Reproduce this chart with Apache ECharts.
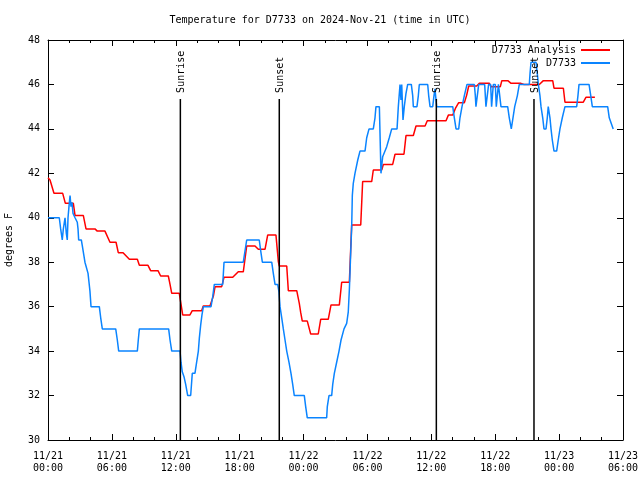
<!DOCTYPE html>
<html>
<head>
<meta charset="utf-8">
<script src="https://cdn.jsdelivr.net/npm/echarts@6/dist/echarts.min.js"></script>
<style>html,body{margin:0;padding:0;background:#fff}#c{width:640px;height:480px}</style>
</head>
<body>
<div id="c"></div>
<script>
// ---- data (hours since 2024-11-21 00:00 UTC, degrees F) ----
const titleText = 'Temperature for D7733 on 2024-Nov-21 (time in UTC)';
const seriesNames = ['D7733 Analysis', 'D7733'];
const xTickLabels = ['11/21\n00:00','11/21\n06:00','11/21\n12:00','11/21\n18:00','11/22\n00:00','11/22\n06:00','11/22\n12:00','11/22\n18:00','11/23\n00:00','11/23\n06:00'];
const yTicks = [30,32,34,36,38,40,42,44,46,48];

const analysisHours = [0,0.19,0.56,1.38,1.63,2.38,2.54,3.32,3.57,4.41,4.63,5.35,5.82,6.39,6.6,7.05,7.64,8.39,8.58,9.39,9.64,10.33,10.58,11.3,11.46,11.62,12.33,12.65,13.33,13.55,14.43,14.58,15.21,15.53,15.69,16.31,16.53,17.35,17.87,18.34,18.66,19.44,19.75,20.38,20.63,21.41,21.63,21.72,22.42,22.57,23.36,23.6,23.73,23.88,24.35,24.67,25.38,25.61,26.32,26.58,27.36,27.58,28.3,28.52,29.37,29.55,30.4,30.55,31.34,31.49,32.37,32.59,33.43,33.62,34.31,34.56,35.41,35.62,37.38,37.6,38.01,38.26,38.57,39.1,39.32,39.51,40.26,40.51,41.45,41.61,42.48,42.62,43.18,43.49,44.42,44.7,46.14,46.52,47.4,47.52,48.4,48.55,50.27,50.52,51.36];
const analysisTemps = [41.8,41.7,41.1,41.1,40.65,40.65,40.1,40.1,39.5,39.5,39.4,39.4,38.9,38.9,38.43,38.43,38.13,38.13,37.86,37.86,37.62,37.62,37.38,37.38,37.0,36.6,36.6,35.63,35.63,35.82,35.82,36.03,36.03,36.48,36.9,36.9,37.32,37.32,37.57,37.57,38.73,38.73,38.58,38.58,39.22,39.22,38.03,37.83,37.83,36.72,36.72,36.15,35.74,35.35,35.35,34.77,34.77,35.43,35.43,36.08,36.08,37.1,37.1,39.68,39.68,41.63,41.63,42.15,42.15,42.4,42.4,42.86,42.86,43.7,43.7,44.13,44.13,44.37,44.37,44.62,44.62,44.92,45.18,45.18,45.52,45.93,45.93,46.05,46.05,45.9,45.9,46.17,46.17,46.05,46.05,46.0,46.0,46.17,46.17,45.83,45.83,45.2,45.2,45.42,45.42];

const obsHours = [0,1.06,1.19,1.34,1.44,1.6,1.72,1.81,1.88,1.97,2.07,2.16,2.25,2.35,2.54,2.75,2.82,2.88,3.13,3.22,3.38,3.47,3.63,3.76,3.85,3.94,4.04,4.82,4.95,5.1,6.36,6.51,6.64,8.39,8.48,8.58,11.33,11.46,11.62,12.4,12.49,12.61,12.77,12.93,13.12,13.4,13.55,13.8,13.96,14.12,14.21,14.34,14.46,14.59,15.31,15.47,15.62,16.41,16.53,18.34,18.5,18.66,19.84,19.98,20.13,21.01,21.16,21.32,21.57,21.69,21.79,21.95,22.1,22.26,22.42,22.63,22.82,22.98,23.13,24.07,24.2,24.35,26.17,26.23,26.39,26.64,26.74,26.89,27.11,27.33,27.52,27.8,28.05,28.2,28.3,28.36,28.43,28.52,28.58,28.67,28.83,29.09,29.3,29.77,29.93,30.15,30.55,30.71,30.8,31.12,31.27,31.43,31.81,32.05,32.28,32.78,32.9,33.06,33.15,33.22,33.34,33.46,33.62,33.78,34.12,34.25,34.31,34.65,34.78,34.87,35.66,35.75,35.88,36.13,36.25,36.34,36.5,38.01,38.16,38.32,38.57,38.69,38.88,39.1,39.35,40.04,40.13,40.19,40.35,40.45,41.01,41.13,41.29,41.38,41.57,41.66,41.82,42.01,42.1,42.24,42.3,42.39,42.54,43.17,43.32,43.51,43.6,43.83,43.95,44.08,44.26,45.2,45.27,45.36,45.83,45.95,46.05,46.2,46.3,46.46,46.58,46.77,46.89,46.98,47.08,47.14,47.24,47.36,47.52,47.77,47.92,48.08,48.3,48.55,49.65,49.77,49.87,50.81,50.97,51.12,52.56,52.71,53.08];
const obsTemps = [40,40,39.5,39,39.5,40,39.3,39,40,40.5,41,40.5,40.7,40.2,40,39.8,39.5,39,39,38.75,38.75,38,38,37.5,37.1,36.7,36,36,35.5,35,35,34.5,34,34,34.5,35,35,34.5,34,34,33.5,33.07,32.85,32.5,32,32,33,33,33.5,34,34.57,35.18,35.63,36,36,36.45,37,37,38,38,38.5,39,39,38.5,38,38,37.5,37,37,36.67,36,35.5,35,34.5,34,33.5,33,32.5,32,32,31.5,31,31,31.5,32,32,32.5,33,33.5,34,34.5,35,35.25,35.77,36.75,37.5,38.47,39.6,41,41.55,42,42.6,43,43,43.6,44,44,44.5,45,45,42,42.75,43.2,43.6,44,44,45,46,45.3,46,44.4,45,45.6,46,46,45.5,45,45,45.5,46,46,45.5,45,45,45.5,45.8,45,45,44.5,44,44,44.5,45,45.5,46,46,45.5,45,45,46,46,45,45,46,46,45,46,46,45,45,46,46,45,45,44.5,44,44,45,45,45.5,46,46,46.5,47,47,46.5,46,45.5,45,44.5,44,44,44.5,45,45,44.5,44,43.5,43,43,43.5,44,44.5,45,45,45.5,46,46,45.5,45,45,44.5,44];

const sunHours = [12.43, 21.72, 36.47, 45.64];
const sunLabels = ['Sunrise', 'Sunset', 'Sunrise', 'Sunset'];
const sunLineTop = 45.35;

// ---- chart ----
const FONT = 'DejaVu Sans Mono';
const zip = (a, b) => a.map((v, i) => [v, b[i]]);
const chart = echarts.init(document.getElementById('c'), null, {renderer: 'canvas'});

function xAxisBase() {
  return {
    type: 'value', min: 0, max: 54, interval: 6,
    axisLine: {show: true, onZero: false, lineStyle: {color: '#000', width: 1}},
    axisTick: {show: true, inside: true, length: 6, lineStyle: {color: '#000'}},
    minorTick: {show: true, splitNumber: 3, length: 3, lineStyle: {color: '#000'}},
    splitLine: {show: false}, minorSplitLine: {show: false}
  };
}
function yAxisBase() {
  return {
    type: 'value', min: 30, max: 48, interval: 2,
    axisLine: {show: true, onZero: false, lineStyle: {color: '#000', width: 1}},
    axisTick: {show: true, inside: true, length: 6, lineStyle: {color: '#000'}},
    splitLine: {show: false}
  };
}

chart.setOption({
  animation: false,
  backgroundColor: '#fff',
  title: {
    text: titleText, left: 'center', top: 10,
    textStyle: {fontFamily: FONT, fontSize: 10, fontWeight: 'normal', color: '#000'}
  },
  legend: {
    orient: 'vertical', right: 25, top: 40, align: 'right',
    itemWidth: 29, itemHeight: 2, itemGap: 3, icon: 'rect',
    textStyle: {fontFamily: FONT, fontSize: 10, color: '#000'},
    data: seriesNames
  },
  grid: {left: 48, right: 17, top: 40, bottom: 40, containLabel: false, outerBoundsMode: 'none'},
  xAxis: [
    Object.assign(xAxisBase(), {
      position: 'bottom',
      axisLabel: {
        margin: 10, fontFamily: FONT, fontSize: 10, color: '#000', lineHeight: 12,
        formatter: v => xTickLabels[Math.round(v / 6)] || ''
      }
    }),
    Object.assign(xAxisBase(), {position: 'top', axisLabel: {show: false}})
  ],
  yAxis: [
    Object.assign(yAxisBase(), {
      position: 'left',
      name: 'degrees F', nameLocation: 'middle', nameRotate: 90, nameGap: 34,
      nameTextStyle: {fontFamily: FONT, fontSize: 10, color: '#000'},
      axisLabel: {margin: 8, fontFamily: FONT, fontSize: 10, color: '#000',
        formatter: v => yTicks.indexOf(v) >= 0 ? String(v) : ''}
    }),
    Object.assign(yAxisBase(), {position: 'right', axisLabel: {show: false}})
  ],
  series: [
    {
      name: seriesNames[0], type: 'line', data: zip(analysisHours, analysisTemps),
      symbol: 'none', lineStyle: {color: '#ff0000', width: 1.5}, itemStyle: {color: '#ff0000'},
      xAxisIndex: 0, yAxisIndex: 0, z: 3
    },
    {
      name: seriesNames[1], type: 'line', data: zip(obsHours, obsTemps),
      symbol: 'none', lineStyle: {color: '#0a84ff', width: 1.5}, itemStyle: {color: '#0a84ff'},
      xAxisIndex: 0, yAxisIndex: 0, z: 4
    },
    {
      name: 'sun', type: 'custom', xAxisIndex: 0, yAxisIndex: 0, z: 5,
      data: sunHours.map((h, i) => [h, sunLabels[i]]),
      renderItem: function (params, api) {
        const h = api.value(0);
        const label = sunLabels[params.dataIndex];
        const bottom = api.coord([h, 30]);
        const top = api.coord([h, sunLineTop]);
        return {
          type: 'group',
          children: [
            {type: 'line', shape: {x1: bottom[0], y1: bottom[1], x2: top[0], y2: top[1]},
             style: {stroke: '#000', lineWidth: 1.5}},
            {type: 'text', x: top[0] + 1, y: top[1] - 6, rotation: Math.PI / 2,
             style: {text: label, x: 0, y: 0, textAlign: 'left', textVerticalAlign: 'middle',
                     font: '10px "' + FONT + '"', fill: '#000'}}
          ]
        };
      }
    }
  ]
});
</script>
</body>
</html>
